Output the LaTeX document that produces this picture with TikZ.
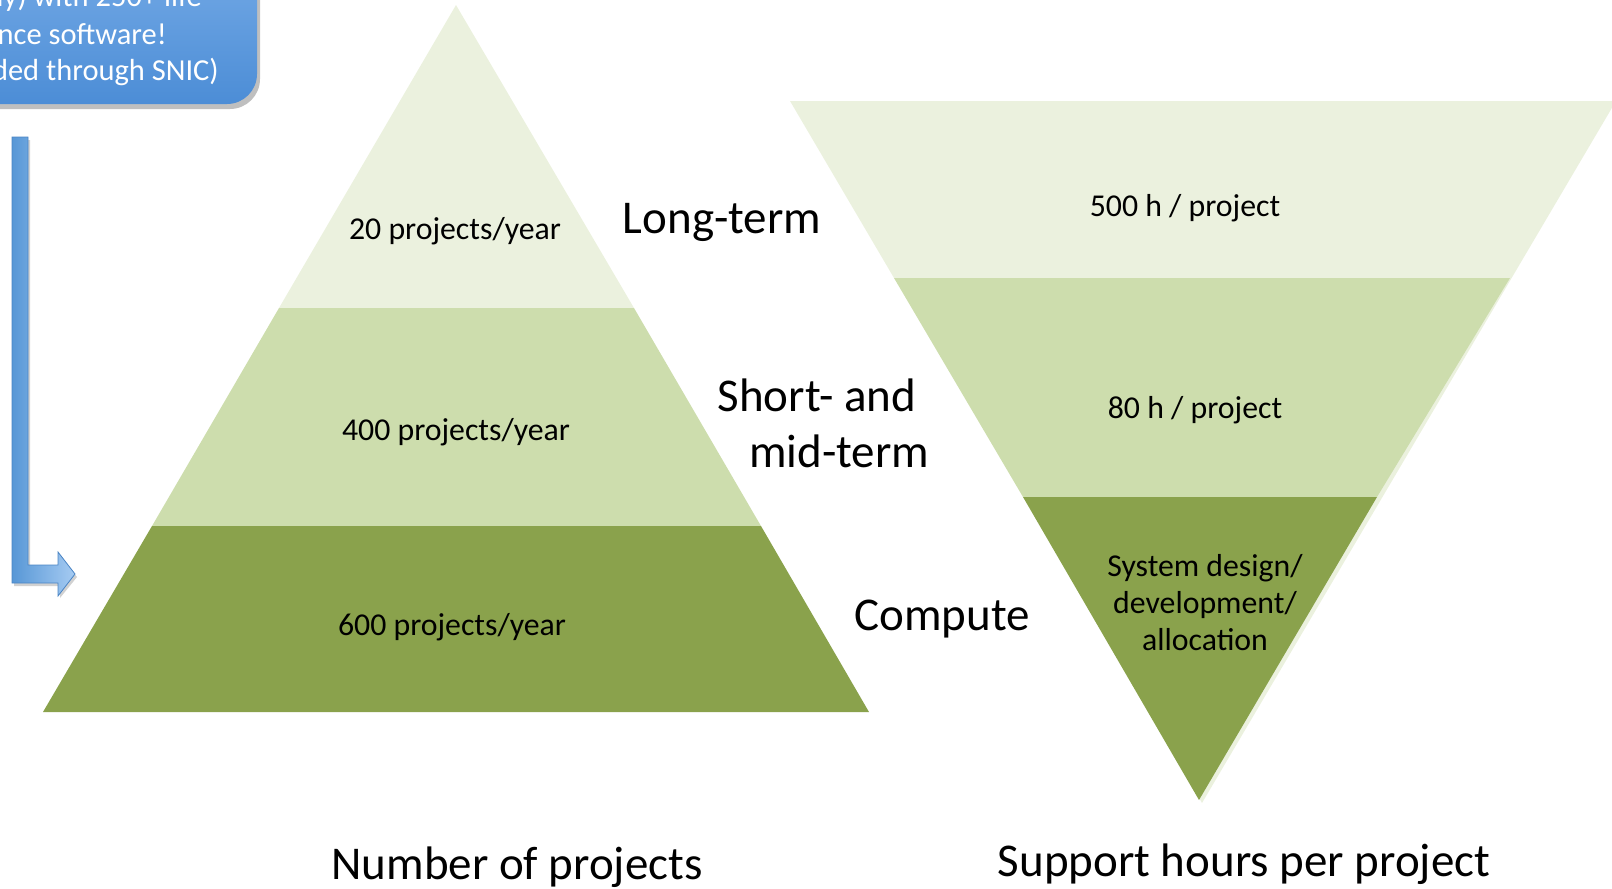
\documentclass[tikz,border=0pt]{standalone}
\usepackage{fontspec}
\setmainfont{Carlito}
\definecolor{lay1}{HTML}{EBF1DE}
\definecolor{lay2}{HTML}{CDDDAD}
\definecolor{lay3}{HTML}{8AA24C}
\definecolor{bluetop}{HTML}{7EB1EA}
\definecolor{bluebot}{HTML}{4C8DD6}
\definecolor{arrowdark}{HTML}{5797D6}
\definecolor{arrowlight}{HTML}{A6CBF2}
\definecolor{arrowedge}{HTML}{4A84C4}
\tikzset{
  lbl/.style={font=\fontsize{31.8}{37}\selectfont, inner sep=0pt, text=black},
  big/.style={font=\fontsize{47}{56}\selectfont, inner sep=0pt, text=black},
  boxtxt/.style={font=\fontsize{30.5}{38}\selectfont, inner sep=0pt, text=white, anchor=east},
}
\begin{document}
\begin{tikzpicture}[x=1pt,y=-1pt]
\useasboundingbox (0,0) rectangle (1612,889);
\begin{scope}
\clip (0,0) rectangle (1612,889);
% blue box (cut off at top-left)
\fill[black, opacity=0.25, rounded corners=30] (-80,-80) rectangle (260,109);
\shade[top color=bluetop, bottom color=bluebot, rounded corners=30] (-80,-80) rectangle (257,104);
\node[boxtxt] (b1) at (202,-2) {ly) with 250+ life};
\node[boxtxt] (b2) at (167,34) {science software!};
\node[boxtxt] (b3) at (219,72) {provided through SNIC)};
% blue arrow
\fill[black, opacity=0.18] (14,140) -- (30,140) -- (30,568) -- (60,568) -- (60,556) -- (77,577) -- (60,598) -- (60,586) -- (14,586) -- cycle;
\shade[left color=arrowdark, right color=arrowlight, draw=arrowedge, line width=0.8pt]
  (12,137) -- (28,137) -- (28,565) -- (58,565) -- (58,552) -- (75,574) -- (58,596) -- (58,583) -- (12,583) -- cycle;
% left pyramid
\fill[lay1] (456,5) -- (634,308) -- (279,308) -- cycle;
\fill[lay2] (279,308) -- (634,308) -- (761,526) -- (152,526) -- cycle;
\fill[lay3] (152,526) -- (761,526) -- (869,712) -- (43,712) -- cycle;
% right inverted pyramid
\fill[lay1] (794,101) -- (1616,101) -- (1202,803) -- cycle;
\fill[lay1] (790,101) -- (1612,101) -- (1510,278) -- (894,278) -- cycle;
\fill[lay2] (894,278) -- (1510,278) -- (1377,497) -- (1023,497) -- cycle;
\fill[lay3] (1023,497) -- (1377,497) -- (1199,800) -- cycle;
\end{scope}
% labels
\node[lbl] (p20) at (455,231) {20 projects/year};
\node[lbl] (p400) at (456,432) {400 projects/year};
\node[lbl] (p600) at (452,627) {600 projects/year};
\node[big] (lt) at (722,222) {Long-term};
\node[big] (sm1) at (817,395) {Short- and};
\node[big] (sm2) at (839,451) {mid-term};
\node[big] (cp) at (942,619) {Compute};
\node[lbl] (h500) at (1185,208) {500 h / project};
\node[lbl] (h80) at (1195,410) {80 h / project};
\node[lbl, align=center] (sys) at (1205,603) {System design/\\development/\\allocation};
\node[big] (np) at (517,867) {Number of projects};
\node[big] (sh) at (1244,864) {Support hours per project};
\end{tikzpicture}
\end{document}
